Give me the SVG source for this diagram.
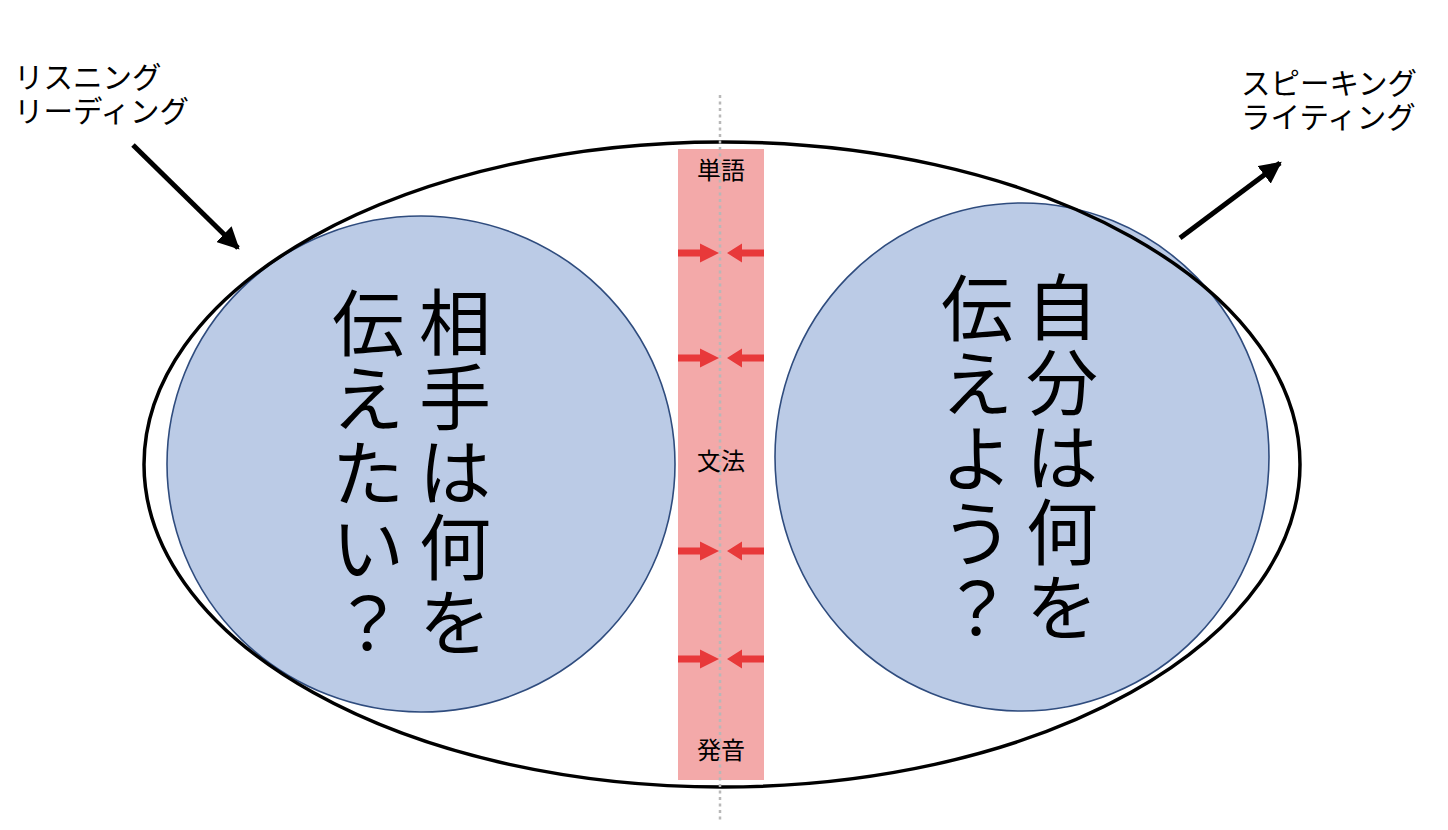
<svg xmlns="http://www.w3.org/2000/svg" width="1448" height="830" viewBox="0 0 1448 830">
<style>
.jp{font-family:"Noto Sans CJK JP","Noto Sans",sans-serif;fill:#000}
.lbl{font-size:29.5px}
.big{font-size:72px;text-anchor:middle}
.sm{font-size:24px;text-anchor:middle}
.circ{fill:#BBCBE6;stroke:#2F4C7E;stroke-width:1.6}
.red{fill:#E8393A}
</style>
<defs>
<marker id="ah" viewBox="0 0 10 10" refX="9" refY="5" markerWidth="4.4" markerHeight="4.4" markerUnits="strokeWidth" orient="auto">
<path d="M0,0 L10,5 L0,10 z" fill="#000"/>
</marker>
</defs>
<rect width="1448" height="830" fill="#fff"/>
<g id="listen-circle">
<ellipse class="circ" cx="421" cy="464" rx="254" ry="248"/>
<text class="jp big" x="455" y="349">相</text>
<text class="jp big" x="455" y="424">手</text>
<text class="jp big" x="455" y="499">は</text>
<text class="jp big" x="455" y="574">何</text>
<text class="jp big" x="455" y="649">を</text>
<text class="jp big" x="368" y="350">伝</text>
<text class="jp big" x="368" y="425">え</text>
<text class="jp big" x="368" y="500">た</text>
<text class="jp big" x="368" y="575">い</text>
<text class="jp big" x="368" y="650">？</text>
</g>
<g id="speak-circle">
<ellipse class="circ" cx="1022" cy="457" rx="247" ry="254"/>
<text class="jp big" x="1062" y="334">自</text>
<text class="jp big" x="1062" y="409">分</text>
<text class="jp big" x="1062" y="484">は</text>
<text class="jp big" x="1062" y="559">何</text>
<text class="jp big" x="1062" y="634">を</text>
<text class="jp big" x="977" y="335">伝</text>
<text class="jp big" x="977" y="410">え</text>
<text class="jp big" x="977" y="485">よ</text>
<text class="jp big" x="977" y="560">う</text>
<text class="jp big" x="977" y="635">？</text>
</g>
<g id="outer">
<ellipse cx="722" cy="464.5" rx="578" ry="322.5" fill="none" stroke="#000" stroke-width="3.5"/>
</g>
<g id="strip">
<rect x="678" y="149" width="86" height="631" fill="#F3A9A9"/>
<text class="jp sm" x="721" y="179">単語</text>
<text class="jp sm" x="721" y="470">文法</text>
<text class="jp sm" x="721" y="759">発音</text>
</g>
<g id="input-label">
<text class="jp lbl" x="14" y="88">リスニング</text>
<text class="jp lbl" x="14" y="122">リーディング</text>
</g>
<g id="output-label">
<text class="jp lbl" x="1241" y="94">スピーキング</text>
<text class="jp lbl" x="1241" y="128">ライティング</text>
</g>
<g id="connectors">
<line x1="133" y1="145" x2="238" y2="248" stroke="#000" stroke-width="5" marker-end="url(#ah)"/>
<line x1="1180" y1="238" x2="1280" y2="163" stroke="#000" stroke-width="5" marker-end="url(#ah)"/>
<line x1="720" y1="95" x2="720" y2="822" stroke="#B8B8B8" stroke-width="2.5" stroke-dasharray="3,3.5"/>
<g class="red">
<path d="M678,249.5 H700 V243.5 L719,253 L700,262.5 V256.5 H678 Z"/>
<path d="M764,249.5 H742 V243.5 L727,253 L742,262.5 V256.5 H764 Z"/>
<path d="M678,354.5 H700 V348.5 L719,358 L700,367.5 V361.5 H678 Z"/>
<path d="M764,354.5 H742 V348.5 L727,358 L742,367.5 V361.5 H764 Z"/>
<path d="M678,547.5 H700 V541.5 L719,551 L700,560.5 V554.5 H678 Z"/>
<path d="M764,547.5 H742 V541.5 L727,551 L742,560.5 V554.5 H764 Z"/>
<path d="M678,655.5 H700 V649.5 L719,659 L700,668.5 V662.5 H678 Z"/>
<path d="M764,655.5 H742 V649.5 L727,659 L742,668.5 V662.5 H764 Z"/>
</g>
</g>
</svg>
